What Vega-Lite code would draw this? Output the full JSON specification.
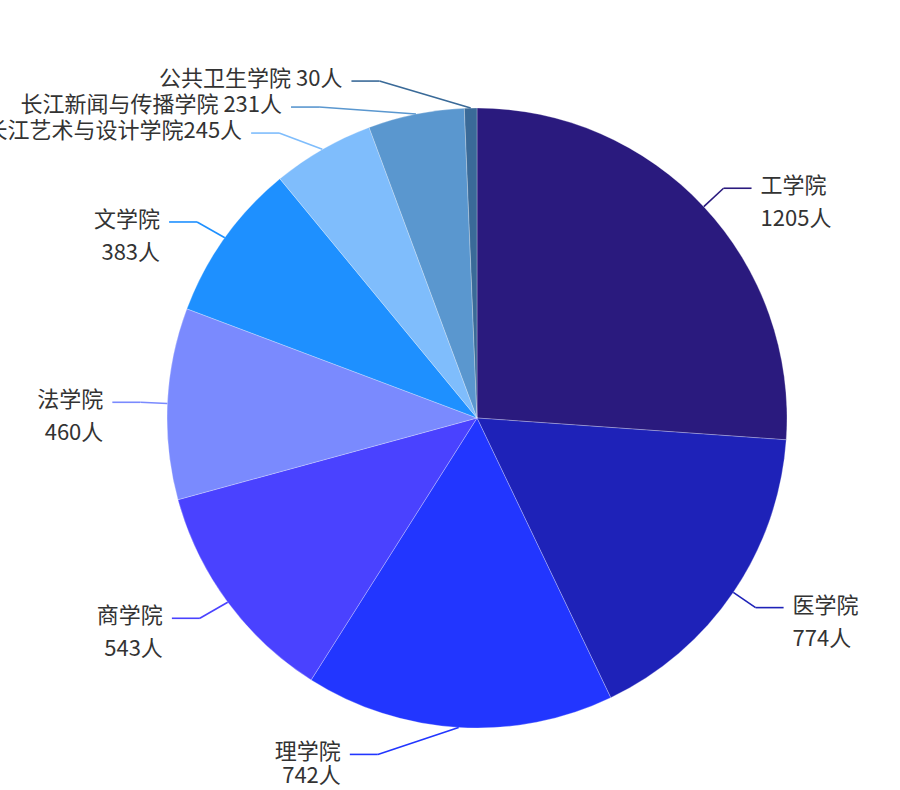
{
  "$schema": "https://vega.github.io/schema/vega-lite/v6.json",
  "width": 846,
  "height": 744,
  "autosize": {"type": "none"},
  "padding": {"left": 54, "top": 46, "right": 0, "bottom": 0},
  "background": "#ffffff",
  "config": {"view": {"stroke": null}},
  "data": {
    "values": [
      {"name": "工学院", "value": 1205, "label": "工学院\n1205人"},
      {"name": "医学院", "value": 774, "label": "医学院\n774人"},
      {"name": "理学院", "value": 742, "label": "理学院\n742人"},
      {"name": "商学院", "value": 543, "label": "商学院\n543人"},
      {"name": "法学院", "value": 460, "label": "法学院\n460人"},
      {"name": "文学院", "value": 383, "label": "文学院\n383人"},
      {"name": "长江艺术与设计学院", "value": 245, "label": "长江艺术与设计学院245人"},
      {"name": "长江新闻与传播学院", "value": 231, "label": "长江新闻与传播学院 231人"},
      {"name": "公共卫生学院", "value": 30, "label": "公共卫生学院 30人"}
    ]
  },
  "transform": [
    {"window": [{"op": "sum", "field": "value", "as": "cum"}], "sort": [{"field": "value", "order": "descending"}], "frame": [null, 0]},
    {"joinaggregate": [{"op": "sum", "field": "value", "as": "total"}]},
    {"calculate": "(datum.cum - datum.value/2)/datum.total*2*PI", "as": "mid"},
    {"calculate": "sin(datum.mid) < 0 ? -1 : 1", "as": "side"},
    {"calculate": "310*sin(datum.mid)", "as": "ex"},
    {"calculate": "310*cos(datum.mid)", "as": "ey"},
    {"calculate": "337*sin(datum.mid)", "as": "nx"},
    {"calculate": "337*cos(datum.mid)", "as": "ny"},
    {"window": [{"op": "row_number", "as": "rk"}], "groupby": ["side"], "sort": [{"field": "ny", "order": "descending"}]},
    {"calculate": "datum.ny + datum.rk*26", "as": "a"},
    {"window": [{"op": "min", "field": "a", "as": "amin"}], "groupby": ["side"], "sort": [{"field": "ny", "order": "descending"}], "frame": [null, 0]},
    {"calculate": "datum.amin - datum.rk*26", "as": "by"},
    {"calculate": "datum.ny - datum.by", "as": "shift"},
    {"joinaggregate": [{"op": "max", "field": "shift", "as": "maxShift"}], "groupby": ["side"]},
    {"calculate": "datum.maxShift > 0.5 ? datum.side*337*sqrt(max(0, 1 - datum.by*datum.by/(352*352))) : datum.nx", "as": "bx"},
    {"calculate": "datum.bx + datum.side*28", "as": "lx"},
    {"calculate": "datum.lx + datum.side*9", "as": "tx"}
  ],
  "encoding": {
    "color": {
      "field": "name",
      "type": "nominal",
      "scale": {
        "domain": ["工学院", "医学院", "理学院", "商学院", "法学院", "文学院", "长江艺术与设计学院", "长江新闻与传播学院", "公共卫生学院"],
        "range": ["#2a1a7e", "#1e22b8", "#2236ff", "#4a42ff", "#7a8afe", "#1e90ff", "#7fbdfc", "#5a97cf", "#3a6a98"]
      },
      "legend": null
    }
  },
  "layer": [
    {
      "mark": {"type": "arc", "outerRadius": 310, "stroke": "#ffffff", "strokeWidth": 0.6, "strokeOpacity": 0.45},
      "encoding": {
        "theta": {"field": "value", "type": "quantitative", "stack": true},
        "order": {"field": "value", "type": "quantitative", "sort": "descending"}
      }
    },
    {
      "mark": {"type": "rule", "strokeWidth": 1.6},
      "encoding": {
        "x": {"field": "ex", "type": "quantitative", "scale": {"domain": [-423, 423], "nice": false, "zero": false}, "axis": null},
        "y": {"field": "ey", "type": "quantitative", "scale": {"domain": [-372, 372], "nice": false, "zero": false}, "axis": null},
        "x2": {"field": "bx"},
        "y2": {"field": "by"}
      }
    },
    {
      "mark": {"type": "rule", "strokeWidth": 1.6},
      "encoding": {
        "x": {"field": "bx", "type": "quantitative", "axis": null},
        "y": {"field": "by", "type": "quantitative", "axis": null},
        "x2": {"field": "lx"}
      }
    },
    {
      "transform": [{"filter": "datum.side > 0"}],
      "mark": {"type": "text", "align": "left", "baseline": "top", "dy": -12, "font": "Noto Sans CJK SC", "fontSize": 22, "lineHeight": 33, "lineBreak": "\n", "color": "#333333"},
      "encoding": {
        "x": {"field": "tx", "type": "quantitative", "axis": null},
        "y": {"field": "by", "type": "quantitative", "axis": null},
        "text": {"field": "label", "type": "nominal"},
        "color": {"value": "#333333"}
      }
    },
    {
      "transform": [{"filter": "datum.side < 0 && datum.by > -320"}],
      "mark": {"type": "text", "align": "right", "baseline": "top", "dy": -12, "font": "Noto Sans CJK SC", "fontSize": 22, "lineHeight": 33, "lineBreak": "\n", "color": "#333333"},
      "encoding": {
        "x": {"field": "tx", "type": "quantitative", "axis": null},
        "y": {"field": "by", "type": "quantitative", "axis": null},
        "text": {"field": "label", "type": "nominal"},
        "color": {"value": "#333333"}
      }
    },
    {
      "transform": [{"filter": "datum.side < 0 && datum.by <= -320"}],
      "mark": {"type": "text", "align": "right", "baseline": "top", "dy": -12, "font": "Noto Sans CJK SC", "fontSize": 22, "lineHeight": 24, "lineBreak": "\n", "color": "#333333"},
      "encoding": {
        "x": {"field": "tx", "type": "quantitative", "axis": null},
        "y": {"field": "by", "type": "quantitative", "axis": null},
        "text": {"field": "label", "type": "nominal"},
        "color": {"value": "#333333"}
      }
    }
  ]
}
